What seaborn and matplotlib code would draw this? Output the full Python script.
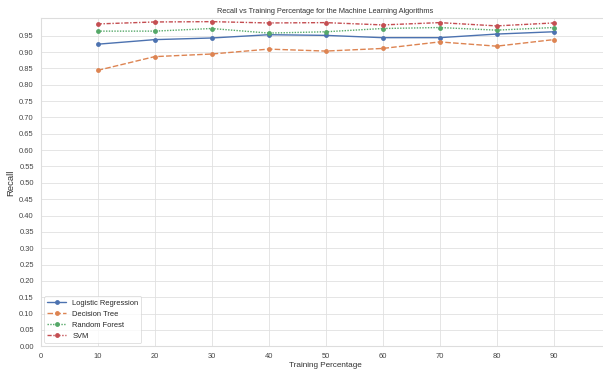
import numpy as np
import pandas as pd
import seaborn as sns
import matplotlib.pyplot as plt

training_pct = [10, 20, 30, 40, 50, 60, 70, 80, 90]
logistic_regression = [0.924, 0.938, 0.943, 0.953, 0.951, 0.944, 0.944, 0.955, 0.962]
decision_tree = [0.844, 0.886, 0.894, 0.909, 0.903, 0.911, 0.931, 0.918, 0.938]
random_forest = [0.964, 0.964, 0.972, 0.958, 0.962, 0.972, 0.975, 0.967, 0.975]
svm = [0.986, 0.992, 0.993, 0.989, 0.990, 0.983, 0.990, 0.980, 0.989]

algorithms = ["Logistic Regression", "Decision Tree", "Random Forest", "SVM"]
series = [logistic_regression, decision_tree, random_forest, svm]

df = pd.concat([
    pd.DataFrame({"Training Percentage": training_pct, "Recall": vals, "Algorithm": name})
    for name, vals in zip(algorithms, series)
], ignore_index=True)

sns.set_theme(style="whitegrid", rc={"grid.linewidth": 0.6, "grid.color": "#e0e0e0",
                                     "axes.edgecolor": "#dddddd", "axes.linewidth": 0.8})
plt.rcParams["font.family"] = ["Liberation Sans", "DejaVu Sans"]

fig = plt.figure(figsize=(6.03, 3.75), dpi=100)
# axes run a little past the right edge, like the cropped original
ax = fig.add_axes([0.0675, 0.0765, 0.945, 0.8745])

sns.lineplot(
    data=df, x="Training Percentage", y="Recall",
    hue="Algorithm", style="Algorithm",
    markers=["o", "o", "o", "o"],
    dashes=["", (4, 1.6), (1, 1), (3, 1.2, 1, 1.2)],
    markersize=3.5, linewidth=1.0, markeredgewidth=0, ax=ax,
)

ax.set_xlim(0, 100)
ax.set_ylim(0, 1.003)
ax.set_xticks(np.arange(0, 100, 10))
ax.set_yticks(np.arange(0, 0.96, 0.05))
ax.set_yticklabels([f"{t:.2f}" for t in np.arange(0, 0.96, 0.05)])
ax.tick_params(labelsize=5.4, colors="#444444", length=0, pad=5)
ax.set_xlabel("Training Percentage", fontsize=5.9, labelpad=1, color="#333333")
ax.set_ylabel("Recall", fontsize=6.8, labelpad=3, color="#333333")
ax.set_title("Recall vs Training Percentage for the Machine Learning Algorithms",
             fontsize=5.3, pad=4, color="#333333")

leg = ax.legend(loc="lower left", fontsize=5.4, frameon=True, handlelength=2.5)
leg.get_frame().set_linewidth(0.5)

fig.savefig("out.png", dpi=100)
